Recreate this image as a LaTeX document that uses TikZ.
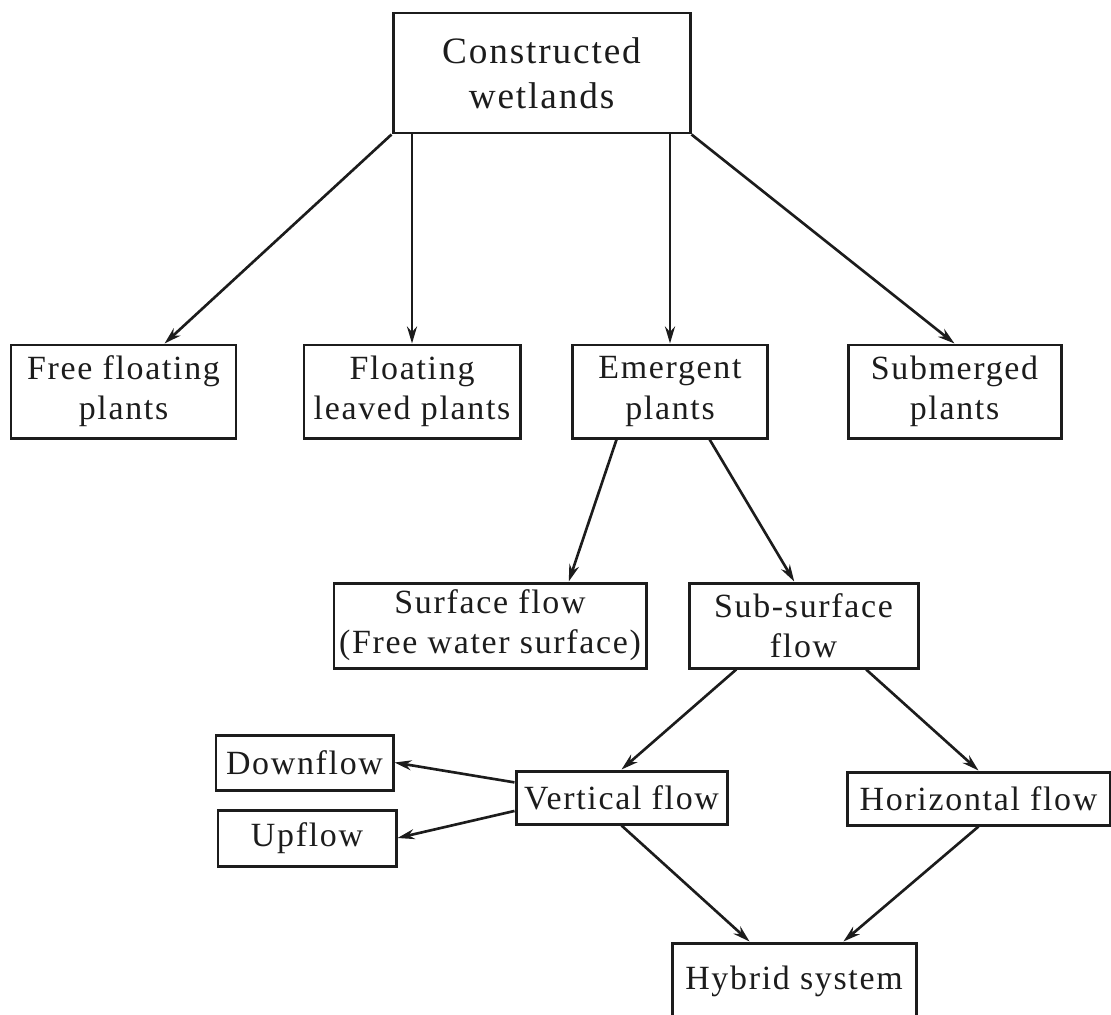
\documentclass[tikz,border=0pt]{standalone}
\usepackage{fontspec}
\setmainfont{Liberation Serif}[LetterSpace=5.0]
\usepackage{tikz}
\usetikzlibrary{arrows.meta,positioning,calc}
\definecolor{ink}{HTML}{1C1C1C}

\begin{document}
\begin{tikzpicture}[x=0.02cm, y=-0.02cm,
  every node/.style={font=\fontsize{19.3}{22.8}\selectfont, text=ink},
  box/.style={draw=ink, line width=1.7pt, align=center, inner sep=0pt},
  sz/.style 2 args={minimum width=#1*0.02cm, minimum height=#2*0.02cm},
  arr/.style={draw=ink, line width=1.5pt, -{Stealth[length=3.4mm,width=2mm]}}]
\useasboundingbox (0,0) rectangle (1111,1014);
\fill[white] (0,0) rectangle (1111,1014);
\clip (0,0) rectangle (1111,1014);

% Top level
\node[box, sz={297}{120},
  font=\fontsize{21.2}{25.6}\selectfont] (cw) at (541.5,73) {Constructed\\wetlands};

% Plant types
\node[box, sz={225}{93}] (ff) at (123.5,391.5) {Free floating\\plants};
\node[box, sz={216}{93}] (fl) at (412,391.5) {Floating\\leaved plants};
\node[box, sz={195}{93}] (em) at (670,391.5) {Emergent\\plants};
\node[box, sz={213}{93}] (sm) at (954.5,391.5) {Submerged\\plants};
\draw[arr] (cw.south west) -- ($(ff.north west)!0.68!(ff.north east)$);
\draw[arr] (cw.south -| fl.north) -- (fl.north);
\draw[arr] (cw.south -| em.north) -- (em.north);
\draw[arr] (cw.south east) -- (sm.north);

% Flow types
\node[box, sz={312}{85}] (sf) at (490,625.5) {Surface flow\\(Free water surface)};
\node[box, sz={229}{85}] (ss) at (803.5,625.5) {Sub-surface\\flow};
\draw[arr] ($(em.south west)!0.23!(em.south east)$) -- ($(sf.north west)!0.75!(sf.north east)$);
\draw[arr] ($(em.south west)!0.70!(em.south east)$) -- ($(ss.north west)!0.46!(ss.north east)$);

% Sub-surface branches
\node[box, sz={177}{55}] (df) at (304.5,762.5) {Downflow};
\node[box, sz={178}{56}] (uf) at (307,838) {Upflow};
\node[box, sz={211}{53}] (vf) at (621.5,797.5) {Vertical flow};
\node[box, sz={263}{53}] (hf) at (978.5,798.5) {Horizontal flow};
\draw[arr] ($(ss.south west)!0.21!(ss.south east)$) -- (vf.north);
\draw[arr] ($(ss.south west)!0.77!(ss.south east)$) -- (hf.north);
\draw[arr] ($(vf.north west)!0.23!(vf.south west)$) -- (df.east);
\draw[arr] ($(vf.north west)!0.74!(vf.south west)$) -- (uf.east);

% Hybrid
\node[box, sz={244}{77}] (hs) at (794,981.5) {Hybrid system};
\draw[arr] (vf.south) -- ($(hs.north west)!0.32!(hs.north east)$);
\draw[arr] (hf.south) -- ($(hs.north west)!0.70!(hs.north east)$);
\end{tikzpicture}
\end{document}
